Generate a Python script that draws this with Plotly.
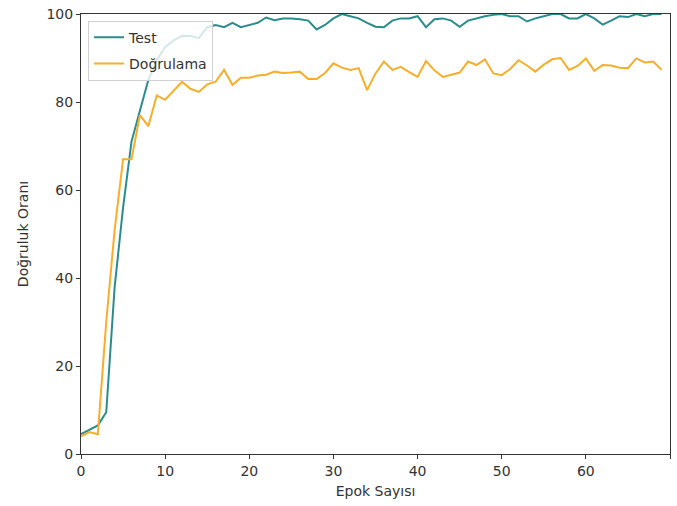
import plotly.graph_objects as go

epochs = list(range(70))
test_acc = [4.5, 5.5, 6.5, 9.5, 38, 56, 71, 78, 85, 89.5,
            92.5, 94, 95, 95, 94.5, 97, 97.5, 97, 98, 97,
            97.5, 98, 99.2, 98.6, 99, 99, 98.8, 98.5, 96.5, 97.5,
            99, 100, 99.5, 99, 98, 97.1, 97, 98.5, 99, 99,
            99.5, 97, 98.8, 99, 98.5, 97.1, 98.5, 99, 99.5, 99.8,
            100, 99.5, 99.5, 98.3, 99, 99.5, 100, 100, 99, 99,
            100, 99, 97.6, 98.5, 99.5, 99.3, 100, 99.5, 100, 100]
val_acc = [4, 5, 4.5, 30, 51, 67, 67, 77, 74.5, 81.5,
           80.5, 82.5, 84.6, 83, 82.3, 84, 84.6, 87.3, 83.9, 85.5,
           85.5, 86, 86.2, 86.9, 86.6, 86.7, 86.9, 85.2, 85.2, 86.6,
           88.8, 87.8, 87.3, 87.7, 82.7, 86.5, 89.2, 87.3, 88, 86.8,
           85.7, 89.3, 87.2, 85.7, 86.2, 86.7, 89.2, 88.4, 89.7, 86.5,
           86.1, 87.5, 89.5, 88.3, 86.9, 88.5, 89.7, 90, 87.3, 88.2,
           89.9, 87.1, 88.4, 88.3, 87.8, 87.7, 89.9, 89, 89.2, 87.3]

fig = go.Figure()
fig.add_trace(go.Scatter(x=epochs, y=test_acc, mode="lines", name="Test",
                         legendgroup="a",
                         line=dict(color="#2a8c8c", width=2)))
fig.add_trace(go.Scatter(x=epochs, y=val_acc, mode="lines", name="Doğrulama",
                         legendgroup="b",
                         line=dict(color="#f8ae2a", width=2)))

axis_common = dict(showgrid=False, zeroline=False, showline=True, linecolor="#333",
                   linewidth=1, mirror=True, ticks="outside", ticklen=4,
                   tickcolor="#333", tickfont=dict(size=14, color="#333"))
fig.update_layout(
    width=677, height=506,
    margin=dict(l=81, r=7, t=14, b=52),
    paper_bgcolor="white", plot_bgcolor="white",
    font=dict(family="DejaVu Sans", color="#333"),
    xaxis=dict(range=[0, 70], dtick=10,
               title=dict(text="Epok Sayısı", font=dict(size=14), standoff=8),
               **axis_common),
    yaxis=dict(range=[0, 100], dtick=20,
               title=dict(text="Doğruluk Oranı", font=dict(size=14), standoff=14),
               **axis_common),
    legend=dict(x=0.012, y=0.985, xanchor="left", yanchor="top",
                bgcolor="rgba(255,255,255,0.8)", bordercolor="#d0d0d0", borderwidth=1,
                font=dict(size=14, color="#333"), itemwidth=30,
                traceorder="grouped", tracegroupgap=5),
    showlegend=True,
)
fig.write_html("out.html")
